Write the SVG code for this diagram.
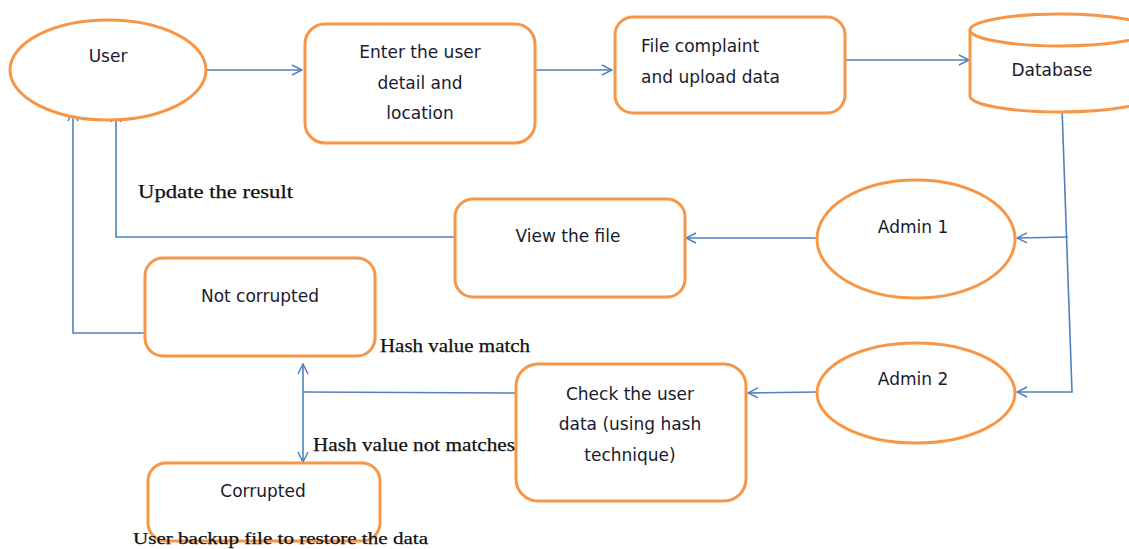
<svg xmlns="http://www.w3.org/2000/svg" width="1129" height="549" viewBox="0 0 1129 549">
<defs>
<marker id="arr" viewBox="0 0 12 12" refX="11" refY="6" markerWidth="12" markerHeight="12" markerUnits="userSpaceOnUse" orient="auto">
<path d="M1,1 L11,6 L1,11" fill="none" stroke="#4f81bd" stroke-width="1.5"/>
</marker>
<style>
.n{fill:#fff;stroke:#f79646;stroke-width:3}
.t{font-family:"DejaVu Sans",Verdana,sans-serif;font-size:17px;fill:#1a1a2e;text-anchor:middle}
.s{font-family:"Liberation Serif","Times New Roman",serif;font-size:18px;fill:#111;stroke:#111;stroke-width:0.25}
.c{fill:none;stroke:#4f81bd;stroke-width:1.6}
</style>
</defs>
<rect width="1129" height="549" fill="#fff"/>
<g id="connectors">
<line class="c" x1="207" y1="70" x2="302" y2="70" marker-end="url(#arr)"/>
<line class="c" x1="535" y1="70" x2="612" y2="70" marker-end="url(#arr)"/>
<line class="c" x1="845" y1="60" x2="969" y2="60" marker-end="url(#arr)"/>
<polyline class="c" points="1062,108 1072,392 1017,392" marker-end="url(#arr)"/>
<line class="c" x1="1068" y1="237" x2="1017" y2="238" marker-end="url(#arr)"/>
<line class="c" x1="817" y1="238" x2="686" y2="238" marker-end="url(#arr)"/>
<line class="c" x1="817" y1="392" x2="748" y2="393" marker-end="url(#arr)"/>
<polyline class="c" points="455,237 116,237 116,112" marker-end="url(#arr)"/>
<polyline class="c" points="145,333 73,333 73,111" marker-end="url(#arr)"/>
<polyline class="c" points="515,393 303,392"/>
<line class="c" x1="303" y1="392" x2="303" y2="364" marker-end="url(#arr)"/>
<line class="c" x1="303" y1="392" x2="303" y2="462" marker-end="url(#arr)"/>
</g>
<g id="user">
<ellipse class="n" cx="108" cy="70" rx="98" ry="50"/>
<text class="t" x="108" y="62">User</text>
</g>
<g id="enter">
<rect class="n" x="305" y="24" width="230" height="119" rx="20"/>
<text class="t" x="420" y="58">Enter the user</text>
<text class="t" x="420" y="89">detail and</text>
<text class="t" x="420" y="119">location</text>
</g>
<g id="file">
<rect class="n" x="615" y="17" width="230" height="96" rx="18"/>
<text class="t" x="641" y="52" style="text-anchor:start">File complaint</text>
<text class="t" x="641" y="83" style="text-anchor:start">and upload data</text>
</g>
<g id="database">
<path class="n" d="M970,30 L970,96 A90,16 0 0 0 1150,96 L1150,30"/>
<ellipse class="n" cx="1060" cy="30" rx="90" ry="16"/>
<text class="t" x="1052" y="76">Database</text>
</g>
<g id="admin1">
<ellipse class="n" cx="916" cy="239" rx="99" ry="59"/>
<text class="t" x="913" y="233">Admin 1</text>
</g>
<g id="admin2">
<ellipse class="n" cx="916" cy="393" rx="99" ry="50"/>
<text class="t" x="913" y="385">Admin 2</text>
</g>
<g id="view">
<rect class="n" x="455" y="199" width="230" height="98" rx="18"/>
<text class="t" x="568" y="242">View the file</text>
</g>
<g id="notcorrupted">
<rect class="n" x="145" y="258" width="230" height="98" rx="18"/>
<text class="t" x="260" y="302">Not corrupted</text>
</g>
<g id="check">
<rect class="n" x="516" y="364" width="230" height="137" rx="22"/>
<text class="t" x="630" y="400">Check the user</text>
<text class="t" x="630" y="430">data (using hash</text>
<text class="t" x="630" y="461">technique)</text>
</g>
<g id="corrupted">
<rect class="n" x="148" y="463" width="232" height="78" rx="18"/>
<text class="t" x="263" y="497">Corrupted</text>
</g>
<g id="labels">
<text class="s" x="138" y="198" textLength="155" lengthAdjust="spacingAndGlyphs">Update the result</text>
<text class="s" x="380" y="352" textLength="150" lengthAdjust="spacingAndGlyphs">Hash value match</text>
<text class="s" x="313" y="451" textLength="202" lengthAdjust="spacingAndGlyphs">Hash value not matches</text>
<text class="s" x="133" y="544" style="font-size:17px" textLength="295" lengthAdjust="spacingAndGlyphs">User backup file to restore the data</text>
</g>
</svg>
